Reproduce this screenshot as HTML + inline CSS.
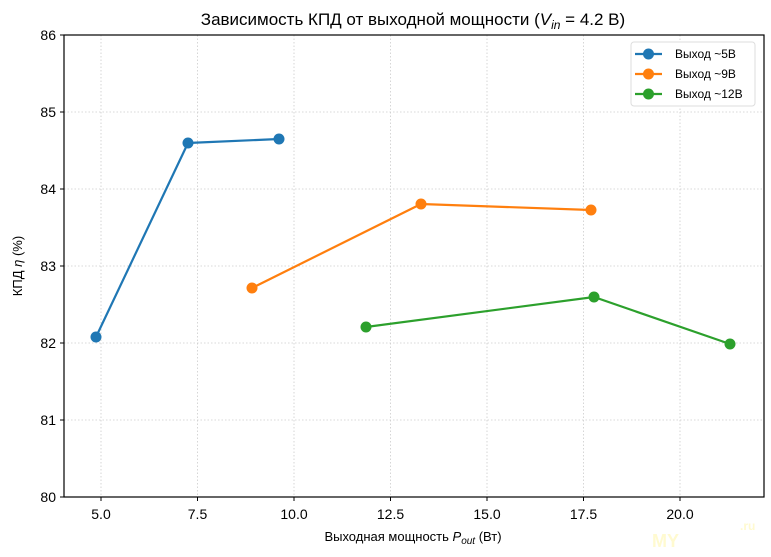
<!DOCTYPE html>
<html><head><meta charset="utf-8"><style>body{margin:0;background:#fff}svg{display:block}text{font-family:"Liberation Sans","DejaVu Sans",sans-serif;fill:#000}</style></head><body>
<svg width="771" height="557" viewBox="0 0 771 557" xmlns="http://www.w3.org/2000/svg">
<rect width="771" height="557" fill="#fff"/>
<g stroke="#ccc" stroke-width="0.8" stroke-dasharray="1.5,2">
<line x1="101" y1="35" x2="101" y2="497"/><line x1="197.5" y1="35" x2="197.5" y2="497"/><line x1="294" y1="35" x2="294" y2="497"/><line x1="390.5" y1="35" x2="390.5" y2="497"/><line x1="487" y1="35" x2="487" y2="497"/><line x1="583.5" y1="35" x2="583.5" y2="497"/><line x1="680" y1="35" x2="680" y2="497"/>
<line x1="64" y1="112" x2="764" y2="112"/><line x1="64" y1="189" x2="764" y2="189"/><line x1="64" y1="266" x2="764" y2="266"/><line x1="64" y1="343" x2="764" y2="343"/><line x1="64" y1="420" x2="764" y2="420"/>
</g>
<rect x="64" y="35" width="700" height="462" fill="none" stroke="#000" stroke-width="1.2"/>
<g stroke="#000"><line x1="101" y1="497" x2="101" y2="501"/><line x1="197.5" y1="497" x2="197.5" y2="501"/><line x1="294" y1="497" x2="294" y2="501"/><line x1="390.5" y1="497" x2="390.5" y2="501"/><line x1="487" y1="497" x2="487" y2="501"/><line x1="583.5" y1="497" x2="583.5" y2="501"/><line x1="680" y1="497" x2="680" y2="501"/>
<line x1="60" y1="35" x2="64" y2="35"/><line x1="60" y1="112" x2="64" y2="112"/><line x1="60" y1="189" x2="64" y2="189"/><line x1="60" y1="266" x2="64" y2="266"/><line x1="60" y1="343" x2="64" y2="343"/><line x1="60" y1="420" x2="64" y2="420"/><line x1="60" y1="497" x2="64" y2="497"/></g>
<g font-size="14" text-anchor="middle"><text x="101" y="519">5.0</text><text x="197.5" y="519">7.5</text><text x="294" y="519">10.0</text><text x="390.5" y="519">12.5</text><text x="487" y="519">15.0</text><text x="583.5" y="519">17.5</text><text x="680" y="519">20.0</text></g>
<g font-size="14" text-anchor="end"><text x="56" y="40">86</text><text x="56" y="117">85</text><text x="56" y="194">84</text><text x="56" y="271">83</text><text x="56" y="348">82</text><text x="56" y="425">81</text><text x="56" y="502">80</text></g>
<text x="413" y="541" font-size="13" text-anchor="middle">Выходная мощность <tspan font-style="italic">P</tspan><tspan font-style="italic" font-size="10" dy="3">out</tspan><tspan dy="-3"> (Вт)</tspan></text>
<text transform="translate(22,266) rotate(-90)" font-size="13" text-anchor="middle">КПД <tspan font-style="italic">η</tspan> (%)</text>
<text x="413" y="25" font-size="17" text-anchor="middle">Зависимость КПД от выходной мощности (<tspan font-style="italic">V</tspan><tspan font-style="italic" font-size="12" dy="4">in</tspan><tspan dy="-4"> = 4.2 В)</tspan></text>
<g stroke-width="2.2" fill="none">
<polyline points="96,337 188,143 279,139" stroke="#1f77b4"/>
<polyline points="252,288 421,204 591,210" stroke="#ff7f0e"/>
<polyline points="366,327 594,297 730,344" stroke="#2ca02c"/>
</g>
<g fill="#1f77b4"><circle cx="96" cy="337" r="5.5"/><circle cx="188" cy="143" r="5.5"/><circle cx="279" cy="139" r="5.5"/></g>
<g fill="#ff7f0e"><circle cx="252" cy="288" r="5.5"/><circle cx="421" cy="204" r="5.5"/><circle cx="591" cy="210" r="5.5"/></g>
<g fill="#2ca02c"><circle cx="366" cy="327" r="5.5"/><circle cx="594" cy="297" r="5.5"/><circle cx="730" cy="344" r="5.5"/></g>
<rect x="631" y="42" width="124" height="64" rx="3" fill="#fff" stroke="#ddd"/>
<g stroke-width="2.2"><line x1="635" y1="54" x2="662" y2="54" stroke="#1f77b4"/><line x1="635" y1="74" x2="662" y2="74" stroke="#ff7f0e"/><line x1="635" y1="94" x2="662" y2="94" stroke="#2ca02c"/></g>
<circle cx="648.5" cy="54" r="5.5" fill="#1f77b4"/><circle cx="648.5" cy="74" r="5.5" fill="#ff7f0e"/><circle cx="648.5" cy="94" r="5.5" fill="#2ca02c"/>
<g font-size="12"><text x="675" y="58">Выход ~5В</text><text x="675" y="78">Выход ~9В</text><text x="675" y="98">Выход ~12В</text></g>
<text x="652" y="547" font-size="18" font-weight="bold" style="fill:#fffad0">MY</text>
<text x="740" y="530" font-size="12" font-weight="bold" style="fill:#fffad0">.ru</text>
</svg>
</body></html>
